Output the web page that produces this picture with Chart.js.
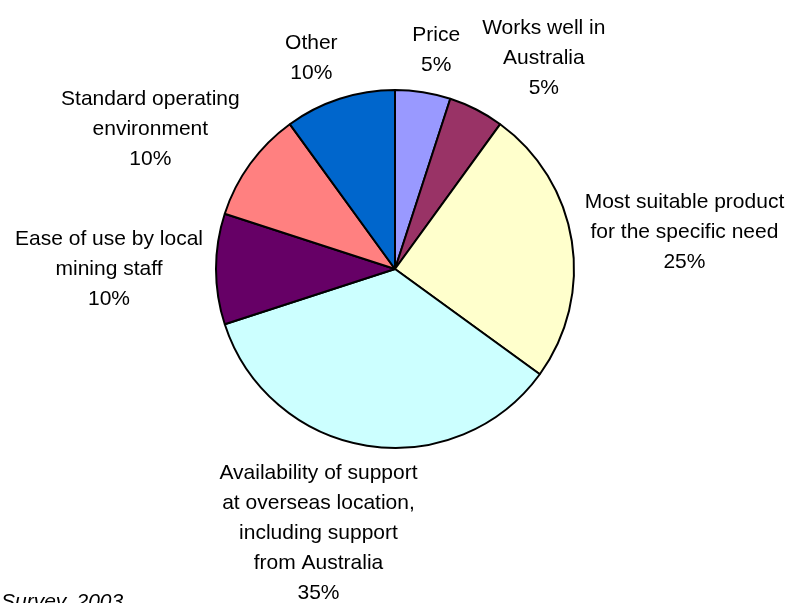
<!DOCTYPE html>
<html>
<head>
<meta charset="utf-8">
<script src="https://cdn.jsdelivr.net/npm/chart.js@4.4.0/dist/chart.umd.min.js"></script>
<style>
  html, body { margin: 0; padding: 0; background: #fff; }
  #wrap { width: 790px; height: 603px; }
</style>
</head>
<body>
<div id="wrap"><canvas id="pie-chart"></canvas></div>
<script>
//reasons given for choosing a product (one entry per line of the label)
var reasons = [
    ['Price'],
    ['Works well in', 'Australia'],
    ['Most suitable product', 'for the specific need'],
    ['Availability of support', 'at overseas location,', 'including support', 'from Australia'],
    ['Ease of use by local', 'mining staff'],
    ['Standard operating', 'environment'],
    ['Other']
];
var shares = [5, 5, 25, 35, 10, 10, 10];
var colours = ['#9999FF', '#993366', '#FFFFCC', '#CCFFFF', '#660066', '#FF8080', '#0066CC'];
var source = 'Survey, 2003';

var labelFont = '21px "Liberation Sans", Arial, sans-serif';
var lineH = 30;

//labels sit outside each slice, pushed away from the pie along the mid angle
var outsideLabels = {
    id: 'outsideLabels',
    afterDatasetsDraw: function(chart) {
        var ctx = chart.ctx;
        var meta = chart.getDatasetMeta(0);
        ctx.save();
        ctx.font = labelFont;
        ctx.fillStyle = '#000';
        ctx.textAlign = 'center';
        ctx.textBaseline = 'middle';
        meta.data.forEach(function(arc, i) {
            var p = arc.getProps(['x', 'y', 'startAngle', 'endAngle', 'outerRadius'], true);
            var mid = (p.startAngle + p.endAngle) / 2;
            var dx = Math.cos(mid), dy = Math.sin(mid);
            var ax = p.x + dx * (p.outerRadius + 13);
            var ay = p.y + dy * (p.outerRadius + 13);
            var lines = reasons[i].concat([shares[i] + '%']);
            var w = 0;
            lines.forEach(function(l) { w = Math.max(w, ctx.measureText(l).width); });
            var h = lines.length * lineH;
            var hf = Math.max(-1, Math.min(1, 3 * dx));
            var cx = ax + hf * w / 2;
            var cy = ay + dy * h / 2;
            lines.forEach(function(l, k) {
                ctx.fillText(l, cx, cy - h / 2 + lineH / 2 + k * lineH);
            });
        });
        ctx.restore();
    },
    afterDraw: function(chart) {
        var ctx = chart.ctx;
        ctx.save();
        ctx.font = 'italic ' + labelFont;
        ctx.fillStyle = '#000';
        ctx.textAlign = 'left';
        ctx.textBaseline = 'alphabetic';
        ctx.fillText(source, 1, 608);
        ctx.restore();
    }
};

var ctx = document.getElementById('pie-chart');

var myChart = new Chart(ctx, {
    type: 'pie',
    plugins: [outsideLabels],
    options: {
        responsive: true,
        maintainAspectRatio: false,
        animation: false,
        radius: 179,
        layout: {
            padding: { top: 0, bottom: 65, left: 0, right: 0 }
        },
        plugins: {
            legend: { display: false },
            tooltip: { enabled: false }
        }
    },
    data: {
        labels: reasons.map(function(r) { return r.join(' '); }),
        datasets: [{
            data: shares,
            backgroundColor: colours,
            borderColor: '#000',
            borderWidth: 2
        }]
    }
});
</script>
</body>
</html>
